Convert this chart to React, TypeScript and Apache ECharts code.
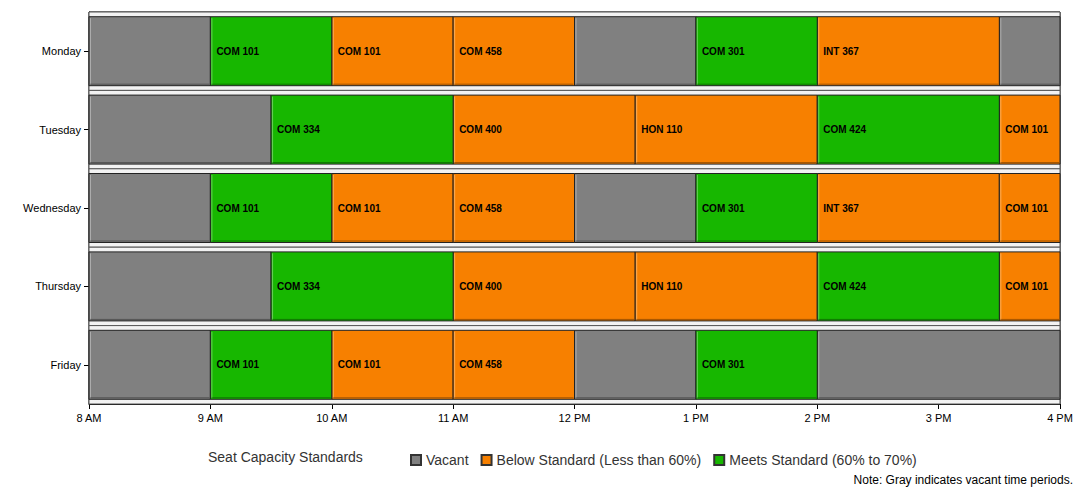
import React, { useEffect, useRef } from "react";
import * as echarts from "echarts";

const days = ["Monday", "Tuesday", "Wednesday", "Thursday", "Friday"];
const hourLabels: Record<number, string> = { 8: "8 AM", 9: "9 AM", 10: "10 AM", 11: "11 AM", 12: "12 PM", 13: "1 PM", 14: "2 PM", 15: "3 PM", 16: "4 PM" };
// [dayIndex, start, end, label]
const vacant: [number, number, number, string][] = [
  [0, 8, 9, ""], [0, 12, 13, ""], [0, 15.5, 16, ""],
  [1, 8, 9.5, ""],
  [2, 8, 9, ""], [2, 12, 13, ""],
  [3, 8, 9.5, ""],
  [4, 8, 9, ""], [4, 12, 13, ""], [4, 14, 16, ""],
];
const below: [number, number, number, string][] = [
  [0, 10, 11, "COM 101"], [0, 11, 12, "COM 458"], [0, 14, 15.5, "INT 367"],
  [1, 11, 12.5, "COM 400"], [1, 12.5, 14, "HON 110"], [1, 15.5, 16, "COM 101"],
  [2, 10, 11, "COM 101"], [2, 11, 12, "COM 458"], [2, 14, 15.5, "INT 367"], [2, 15.5, 16, "COM 101"],
  [3, 11, 12.5, "COM 400"], [3, 12.5, 14, "HON 110"], [3, 15.5, 16, "COM 101"],
  [4, 10, 11, "COM 101"], [4, 11, 12, "COM 458"],
];
const meets: [number, number, number, string][] = [
  [0, 9, 10, "COM 101"], [0, 13, 14, "COM 301"],
  [1, 9.5, 11, "COM 334"], [1, 14, 15.5, "COM 424"],
  [2, 9, 10, "COM 101"], [2, 13, 14, "COM 301"],
  [3, 9.5, 11, "COM 334"], [3, 14, 15.5, "COM 424"],
  [4, 9, 10, "COM 101"], [4, 13, 14, "COM 301"],
];
const bands = days.map((_, i) => [i]);

const FONT = "Liberation Sans, Arial, sans-serif";

function makeRender(color: string) {
  return (params: any, api: any) => {
    const d = api.value(0);
    const s = api.coord([api.value(1), d]);
    const e = api.coord([api.value(2), d]);
    const h = api.size([0, 1])[1] * 0.88;
    const x = s[0], w = e[0] - s[0], y = s[1] - h / 2;
    const label = (params.dataIndex !== undefined && (api as any)) ? null : null;
    return {
      type: "group",
      children: [
        { type: "rect", shape: { x, y, width: w, height: h }, style: { fill: color, stroke: "#222", lineWidth: 1 } },
        { type: "line", shape: { x1: x + 1.5, y1: y + 1.5, x2: x + 1.5, y2: y + h - 1 }, style: { stroke: "rgba(255,255,255,0.35)", lineWidth: 1 } },
        { type: "line", shape: { x1: x + 1, y1: y + h - 1.5, x2: x + w - 1, y2: y + h - 1.5 }, style: { stroke: "rgba(0,0,0,0.35)", lineWidth: 1 } },
      ],
    };
  };
}

function makeSeries(name: string, color: string, data: any[]) {
  return {
    type: "custom",
    name,
    itemStyle: { color, borderColor: "#333", borderWidth: 1 },
    renderItem: (params: any, api: any) => {
      const g: any = makeRender(color)(params, api);
      const d = api.value(0);
      const s = api.coord([api.value(1), d]);
      const txt = data[params.dataIndex][3];
      if (txt) {
        g.children.push({ type: "text", x: s[0] + 6, y: s[1], style: { text: txt, fill: "#000", font: "bold 10px " + FONT, verticalAlign: "middle" } });
      }
      return g;
    },
    encode: { x: [1, 2], y: 0 },
    data,
  };
}

export default function App() {
  const ref = useRef<HTMLDivElement>(null);
  useEffect(() => {
    const chart = echarts.init(ref.current!, null, { renderer: "svg" });
    chart.setOption({
      animation: false,
      textStyle: { fontFamily: FONT },
      grid: { left: 89, right: 25, top: 12, bottom: 96 },
      xAxis: {
        type: "value", min: 8, max: 16, interval: 1,
        axisLabel: { formatter: (v: number) => hourLabels[v] || "", fontSize: 11, color: "#000" },
        axisLine: { show: true, lineStyle: { color: "#000" } },
        axisTick: { show: true, lineStyle: { color: "#000" } },
        splitLine: { show: false },
      },
      yAxis: {
        type: "category", data: days, inverse: true,
        axisLabel: { fontSize: 11, color: "#000" },
        axisLine: { show: true, lineStyle: { color: "#000" } },
        axisTick: { show: true, alignWithLabel: true, lineStyle: { color: "#000" } },
      },
      legend: {
        left: 405, top: 448, itemWidth: 10, itemHeight: 10, itemGap: 12,
        icon: "rect",
        textStyle: { fontSize: 14, color: "#333", fontFamily: FONT },
        data: ["Vacant", "Below Standard (Less than 60%)", "Meets Standard (60% to 70%)"],
      },
      graphic: [
        { type: "rect", shape: { x: 0.5, y: 0.5, width: 1083, height: 498 }, style: { fill: "none", stroke: "#000" } },
        { type: "rect", shape: { x: 89, y: 12, width: 971, height: 392 }, style: { fill: "none", stroke: "#000" } },
        { type: "text", x: 208, y: 457, style: { text: "Seat Capacity Standards", font: "14px " + FONT, fill: "#333", verticalAlign: "middle" } },
        { type: "text", right: 12, top: 474, style: { text: "Note: Gray indicates vacant time periods.", font: "12px " + FONT, fill: "#000" } },
      ],
      series: [
        {
          type: "custom", name: "band", silent: true,
          renderItem: (params: any, api: any) => {
            const c = api.coord([8, api.value(0)]);
            const c2 = api.coord([16, api.value(0)]);
            const h = api.size([0, 1])[1];
            return {
              type: "rect", shape: { x: c[0], y: c[1] - h / 2, width: c2[0] - c[0], height: h },
              style: {
                fill: new echarts.graphic.LinearGradient(0, 0, 0, 1, [
                  { offset: 0, color: "#f4f4f4" }, { offset: 0.5, color: "#d8d8d8" }, { offset: 1, color: "#f4f4f4" },
                ]),
                stroke: "#555", lineWidth: 1,
              },
            };
          },
          encode: { y: 0 },
          data: bands,
        },
        makeSeries("Vacant", "#808080", vacant),
        makeSeries("Below Standard (Less than 60%)", "#F78000", below),
        makeSeries("Meets Standard (60% to 70%)", "#17B700", meets),
      ],
    });
    return () => chart.dispose();
  }, []);
  return <div ref={ref} style={{ width: 1085, height: 500, margin: -8 }} />;
}
